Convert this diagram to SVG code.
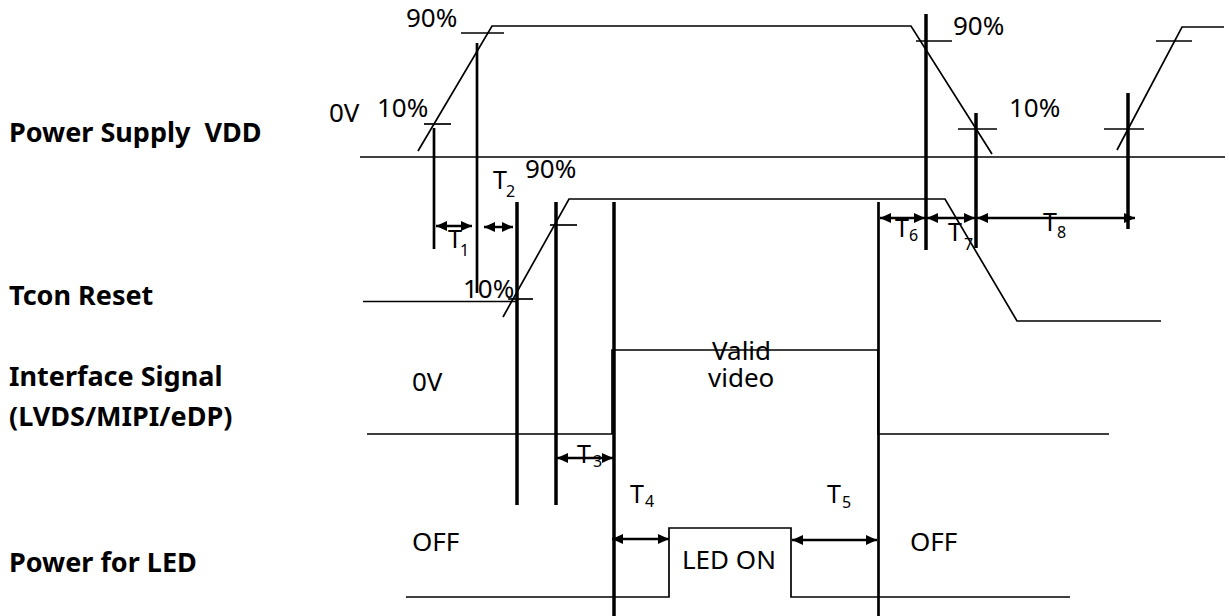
<svg xmlns="http://www.w3.org/2000/svg" width="1229" height="616" viewBox="0 0 1229 616">
<style>
text{font-family:"Noto Sans","Open Sans","DejaVu Sans",sans-serif;fill:#000}
.lbl{font-size:27px;font-weight:bold}
.t{font-size:26px}
.tt{font-size:25px}
.sub{font-size:16px}
.w{fill:none;stroke:#000;stroke-width:1.7}
.thk{stroke:#000;stroke-width:3.5;fill:none}
.mid{stroke:#000;stroke-width:2.7;fill:none}
.arr{stroke:#000;stroke-width:2.5;fill:none;marker-start:url(#ah);marker-end:url(#ah)}
</style>
<defs>
<marker id="ah" markerUnits="userSpaceOnUse" markerWidth="11" markerHeight="10" refX="11" refY="5" orient="auto-start-reverse"><path d="M0,0 L11,5 L0,10 z" fill="#000"/></marker>
</defs>
<rect width="1229" height="616" fill="#fff"/>
<g id="row-labels">
<text class="lbl" x="9" y="142" xml:space="preserve">Power Supply  VDD</text>
<text class="lbl" x="9" y="305">Tcon Reset</text>
<text class="lbl" x="9" y="386">Interface Signal</text>
<text class="lbl" x="9" y="426">(LVDS/MIPI/eDP)</text>
<text class="lbl" x="9" y="572">Power for LED</text>
</g>
<g id="vdd">
<line class="w" x1="360" y1="157" x2="1225" y2="157"/>
<polyline class="w" points="418,151 492,26 911,26 992,154"/>
<polyline class="w" points="1117,150 1182,27 1224,27"/>
<line class="w" x1="461" y1="33" x2="504" y2="33"/>
<line class="w" x1="424" y1="124" x2="451" y2="124"/>
<line class="w" x1="916" y1="41" x2="952" y2="41"/>
<line class="w" x1="958" y1="129" x2="997" y2="129"/>
<line class="w" x1="1156" y1="41" x2="1192" y2="41"/>
<line class="w" x1="1104" y1="129" x2="1144" y2="129"/>
<text class="t" x="406" y="27">90%</text>
<text class="t" x="329" y="122">0V</text>
<text class="t" x="377" y="117">10%</text>
<text class="t" x="953" y="35">90%</text>
<text class="t" x="1009" y="117">10%</text>
</g>
<g id="tcon">
<line class="w" x1="363" y1="301.5" x2="516" y2="301.5"/>
<polyline class="w" points="503,317 569,199 945,199 1017,321 1161,321"/>
<line class="w" x1="550" y1="225" x2="577" y2="225"/>
<line class="w" x1="508" y1="299" x2="533" y2="299"/>
<text class="t" x="525" y="178">90%</text>
<text class="t" x="463" y="298">10%</text>
</g>
<g id="interface">
<polyline class="w" points="367,434 612,434 612,350 878,350 878,434 1109,434"/>
<text class="t" x="412" y="391">0V</text>
<text class="t" x="712" y="360">Valid</text>
<text class="t" x="708" y="387">video</text>
</g>
<g id="led">
<polyline class="w" points="406,597 669,597 669,528 791,528 791,597 1070,597"/>
<text class="t" x="682" y="569">LED ON</text>
<text class="t" x="412" y="551">OFF</text>
<text class="t" x="910" y="551">OFF</text>
</g>
<g id="connectors">
<line class="mid" x1="434" y1="128" x2="434" y2="249"/>
<line class="mid" x1="477" y1="43" x2="477" y2="293"/>
<line class="thk" x1="517" y1="202" x2="517" y2="505"/>
<line class="thk" x1="556" y1="202" x2="556" y2="505"/>
<line class="thk" x1="614" y1="202" x2="614" y2="616"/>
<line class="mid" x1="878.5" y1="202" x2="878.5" y2="616"/>
<line class="thk" x1="926" y1="14" x2="926" y2="250"/>
<line class="thk" x1="976" y1="113" x2="976" y2="248"/>
<line class="thk" x1="1128" y1="93" x2="1128" y2="229"/>
<line class="arr" x1="436" y1="226" x2="472" y2="226"/>
<line class="arr" x1="484" y1="227" x2="513" y2="227"/>
<line class="arr" x1="557" y1="458" x2="613" y2="458"/>
<line class="arr" x1="612" y1="539" x2="669" y2="539"/>
<line class="arr" x1="792" y1="540" x2="877" y2="540"/>
<line class="arr" x1="880" y1="218" x2="925" y2="218"/>
<line class="arr" x1="927" y1="218" x2="975" y2="218"/>
<line class="arr" x1="977" y1="218" x2="1135" y2="218"/>
</g>
<g id="timing-labels">
<text class="tt" x="448" y="248">T</text><text class="sub" x="460" y="256">1</text>
<text class="tt" x="493" y="189">T</text><text class="sub" x="506" y="197">2</text>
<text class="tt" x="577" y="463">T</text><text class="sub" x="593" y="467">3</text>
<text class="tt" x="630" y="503">T</text><text class="sub" x="645" y="507">4</text>
<text class="tt" x="827" y="503">T</text><text class="sub" x="842" y="508">5</text>
<text class="tt" x="895" y="237">T</text><text class="sub" x="909" y="241">6</text>
<text class="tt" x="948" y="241">T</text><text class="sub" x="964" y="250">7</text>
<text class="tt" x="1043" y="231">T</text><text class="sub" x="1057" y="238">8</text>
</g>
</svg>
